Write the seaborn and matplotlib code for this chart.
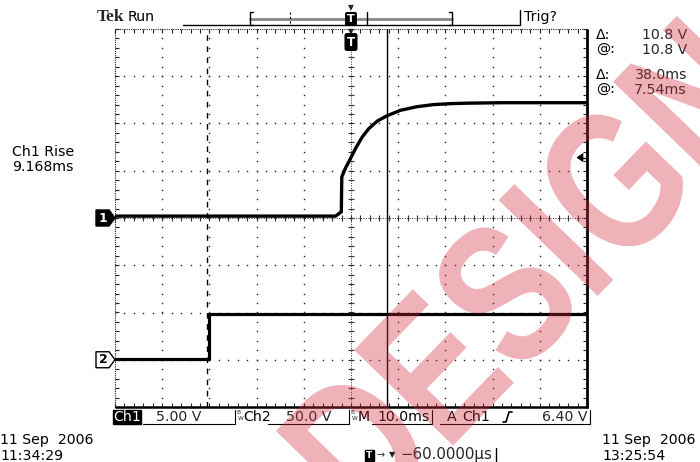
import numpy as np
import pandas as pd
import matplotlib
matplotlib.use("Agg")
import matplotlib.pyplot as plt
from matplotlib.patches import Polygon, Rectangle, PathPatch
from matplotlib.textpath import TextPath
from matplotlib.font_manager import FontProperties
from matplotlib.transforms import Affine2D
import seaborn as sns

# ---- acquisition data (time in ms, referenced to the trigger point) ----
ch1_time_ms = [-50.0, -3.3, -2.05, -1.95, -1.15, 0.0, 0.95, 2.35, 3.75, 5.55,
               7.54, 10.5, 14.0, 17.5, 21.0, 24.6, 32.0, 40.0, 50.0]
ch1_volts = [0.2, 0.2, 0.65, 4.35, 5.3, 6.4, 7.35, 8.55, 9.45, 10.25,
             10.8, 11.4, 11.78, 12.0, 12.1, 12.15, 12.2, 12.2, 12.2]

ch2_time_ms = [-50.0, -30.1, -30.1, 50.0]
ch2_volts = [0.5, 0.5, 48.0, 48.0]

# ---- scope settings ----
ch1_volts_per_div = 5.0
ch2_volts_per_div = 50.0
ch1_ground_div = 0.0
ch2_ground_div = -3.0
time_per_div_ms = 10.0
cursor_times_ms = [-30.46, 7.54]      # dashed (inactive), solid (active)
trigger_level_v = 6.40

readouts = [("Δ:", "10.8 V"), ("@:", "10.8 V"), ("Δ:", "38.0ms"), ("@:", "7.54ms")]
measure_name = "Ch1 Rise"
measure_value = "9.168ms"
status_fields = ["Ch1", "5.00 V", "Ch2", "50.0 V", "M", "10.0ms", "A", "Ch1", "6.40 V"]
date_left = ["11 Sep  2006", "11:34:29"]
date_right = ["11 Sep  2006", "13:25:54"]
h_position = "−60.0000µs"
watermark = "DESIGN"

sns.set_theme(style="white")
plt.rcParams["font.family"] = ["DejaVu Sans"]

W, H = 700, 462
fig = plt.figure(figsize=(W / 100, H / 100), dpi=100, facecolor="white")

# graticule box in pixels
GL, GR, GT, GB = 115, 587, 29, 407
ax = fig.add_axes([GL / W, (H - GB) / H, (GR - GL) / W, (GB - GT) / H])


def div_to_px(d):
    return GT + (4 - d) * (GB - GT) / 8.0


def t_to_px(t):
    return GL + (t / time_per_div_ms + 5) * (GR - GL) / 10.0


# ---- graticule ----
minor_x = np.arange(-50, 50.01, 2.0)
minor_y = np.arange(-4, 4.001, 0.2)
dot_kw = dict(ls="none", marker="s", ms=1.0, mew=0, color="#222222", zorder=1)
for xv in np.arange(-40, 41, 10):
    ax.plot(np.full_like(minor_y, xv), minor_y, **dot_kw)
for yv in np.arange(-3, 4, 1):
    ax.plot(minor_x, np.full_like(minor_x, yv), **dot_kw)
# centre cross with minor ticks
ax.plot(minor_x, np.zeros_like(minor_x), ls="none", marker="|", ms=4, mew=0.8, color="#333333", zorder=1)
ax.plot(np.zeros_like(minor_y), minor_y, ls="none", marker="_", ms=5, mew=0.8, color="#333333", zorder=1)
ax.plot([0, 0], [-4, 4], ls=(0, (1, 1.5)), lw=0.7, color="#333333", zorder=1)
ax.plot([-50, 50], [0, 0], ls=(0, (1, 1.5)), lw=0.7, color="#333333", zorder=1)
# borders
ax.plot([-50, 50], [4, 4], ls=(0, (1, 1)), lw=0.8, color="#222222", clip_on=False, zorder=2)
ax.plot(minor_x, np.full_like(minor_x, 4), ls="none", marker=3, ms=3, mew=0.8, color="#222222", clip_on=False)
ax.plot([-50, -50], [-4, 4], ls=(0, (1, 1)), lw=0.8, color="#222222", clip_on=False, zorder=2)
ax.plot(np.full_like(minor_y, -50), minor_y, ls="none", marker=1, ms=3, mew=0.8, color="#222222", clip_on=False)
ax.plot(minor_x, np.full_like(minor_x, -4), ls="none", marker=2, ms=3, mew=0.8, color="#222222", clip_on=False)
ax.plot(np.full_like(minor_y, 50), minor_y, ls="none", marker=0, ms=3, mew=0.8, color="#222222", clip_on=False)
ax.plot([-50, 50.3], [-4, -4], lw=1.8, color="black", clip_on=False, zorder=4, solid_capstyle="butt")
ax.plot([50, 50], [-4.02, 4], lw=2.0, color="black", clip_on=False, zorder=4, solid_capstyle="butt")

# ---- cursors ----
ax.axvline(cursor_times_ms[0], color="black", lw=1.0, ls=(0, (4, 4)), zorder=2)
ax.axvline(cursor_times_ms[1], color="black", lw=1.0, zorder=2)

# ---- traces ----
df1 = pd.DataFrame({"t": ch1_time_ms,
                    "div": np.array(ch1_volts) / ch1_volts_per_div + ch1_ground_div})
df2 = pd.DataFrame({"t": ch2_time_ms,
                    "div": np.array(ch2_volts) / ch2_volts_per_div + ch2_ground_div})
sns.lineplot(data=df1, x="t", y="div", estimator=None, sort=False, color="black", lw=2.4, ax=ax, zorder=3)
sns.lineplot(data=df2, x="t", y="div", estimator=None, sort=False, color="black", lw=2.3, ax=ax, zorder=3)
ax.set_xlim(-5 * time_per_div_ms, 5 * time_per_div_ms)
ax.set_ylim(-4, 4)
ax.axis("off")

# ---- overlay in pixel coordinates ----
ov = fig.add_axes([0, 0, 1, 1])
ov.set_xlim(0, W)
ov.set_ylim(H, 0)
ov.axis("off")

FS = 10.2
txt = dict(fontsize=FS, color="black", va="center")

# header
ov.text(97, 17, "Tek", fontsize=12.5, fontweight="bold", family="Liberation Serif", va="center")
ov.text(128, 17, "Run", **txt)
ov.plot([183, 520], [25, 25], color="black", lw=1.0)
ov.plot([250, 452], [19, 19], color="#888888", lw=2.0)
for bx, s in [(250, 1), (452, -1)]:
    ov.plot([bx + 3 * s, bx, bx, bx + 3 * s], [12, 12, 25, 25], color="black", lw=1.0)
ov.plot([290, 290], [12, 25], color="black", lw=0.8, ls=(0, (2, 2)))
ov.plot([367, 367], [12, 25], color="black", lw=1.0)
ov.plot([520, 520], [10, 25], color="black", lw=1.0)
ov.text(524, 17, "Trig?", **txt)
trig_x = t_to_px(0.0)
ov.text(trig_x, 8, "▼", fontsize=5.5, ha="center", va="center")
ov.text(trig_x, 19, "T", fontsize=8, fontweight="bold", color="white", ha="center", va="center",
        bbox=dict(boxstyle="round,pad=0.12", fc="black", ec="black"))
ov.text(trig_x, 32, "▼", fontsize=5.5, ha="center", va="center")
ov.text(trig_x, 42, "T", fontsize=8.5, fontweight="bold", color="white", ha="center", va="center",
        bbox=dict(boxstyle="round,pad=0.15", fc="black", ec="black"))

# cursor readouts
for (lab, val), y in zip(readouts, [35, 50, 75, 90]):
    ov.text(596, y, lab, **txt)
    ov.text(687, y, val, ha="right", fontsize=FS, va="center")

# measurement
ov.text(12, 152, measure_name, **txt)
ov.text(12, 167, measure_value, **txt)

# channel ground markers
for d, label, fc, tc in [(ch1_ground_div, "1", "black", "white"), (ch2_ground_div, "2", "white", "black")]:
    yc = div_to_px(d)
    ov.add_patch(Polygon([(96, yc - 8), (109, yc - 8), (115, yc), (109, yc + 8), (96, yc + 8)],
                         closed=True, fc=fc, ec="black", lw=1.0))
    ov.text(103, yc, label, fontsize=9, fontweight="bold", color=tc, ha="center", va="center")

# trigger level arrow
ty = div_to_px(trigger_level_v / ch1_volts_per_div + ch1_ground_div)
ov.add_patch(Polygon([(577, ty), (583, ty - 4), (583, ty + 4)], closed=True, fc="black", ec="black", lw=0.5))
ov.plot([583, 587], [ty, ty], color="black", lw=1.0)

# status bar
SY = 417
ov.add_patch(Rectangle((113, 410), 28, 14, fc="black", ec="black"))
ov.text(127, SY, status_fields[0], color="white", ha="center", fontsize=FS, va="center")
ov.text(201, SY, status_fields[1], ha="right", fontsize=FS, va="center")
ov.plot([143, 235, 235], [424, 424, 410], color="black", lw=0.8)
for bwx in (236, 350):
    ov.text(bwx, 413, "B", fontsize=4.2, va="center")
    ov.text(bwx + 2.2, 419, "W", fontsize=4.2, va="center")
ov.text(243, SY, status_fields[2], **txt)
ov.text(331, SY, status_fields[3], ha="right", fontsize=FS, va="center")
ov.plot([268, 349, 349], [424, 424, 410], color="black", lw=0.8)
ov.text(358, SY, status_fields[4], **txt)
ov.text(377, SY, status_fields[5], **txt)
ov.plot([372, 432, 432], [424, 424, 410], color="black", lw=0.8)
ov.text(447, SY, status_fields[6], **txt)
ov.text(462, SY, status_fields[7], **txt)
ov.plot([503, 506, 509, 512], [422, 422, 412, 412], color="black", lw=1.2)
ov.text(588, SY, status_fields[8], ha="right", fontsize=FS, va="center")
ov.plot([440, 590, 590], [424, 424, 410], color="black", lw=0.8)

# dates
ov.text(0, 440, date_left[0], **txt)
ov.text(0, 456, date_left[1], **txt)
ov.text(602, 440, date_right[0], **txt)
ov.text(602, 456, date_right[1], **txt)

# horizontal position readout
ov.add_patch(Rectangle((365, 450), 9, 11, fc="black", ec="black"))
ov.text(369.5, 455.5, "T", color="white", fontsize=6.5, fontweight="bold", ha="center", va="center")
ov.text(381, 455, "→", fontsize=7, ha="center", va="center")
ov.text(392, 455, "▼", fontsize=6, ha="center", va="center")
ov.text(400, 455, h_position, fontsize=10.8, va="center")
ov.plot([496, 496], [448, 462], color="black", lw=1.0)

# watermark: condensed bold lettering, rotated about the centre of the "I"
wm_prop = FontProperties(family="Liberation Sans", weight="bold")
wm_size = 200
wm_path = TextPath((0, 0), watermark, size=wm_size, prop=wm_prop)
ext_desi = TextPath((0, 0), watermark[:4], size=wm_size, prop=wm_prop).get_extents()
ext_i = TextPath((0, 0), "I", size=wm_size, prop=wm_prop).get_extents()
i_cx = ext_desi.x1 - ext_i.width / 2.0
i_cy = ext_i.y1 / 2.0
wm_tf = (Affine2D().translate(-i_cx, -i_cy).scale(0.78, 1.0)
         .rotate_deg(46).translate(556, H - 240))
fig.patches.append(PathPatch(wm_path, transform=wm_tf, fc="#d42a3c", ec="none",
                             alpha=0.36, zorder=10))

fig.savefig("out.png", dpi=100, facecolor="white")
